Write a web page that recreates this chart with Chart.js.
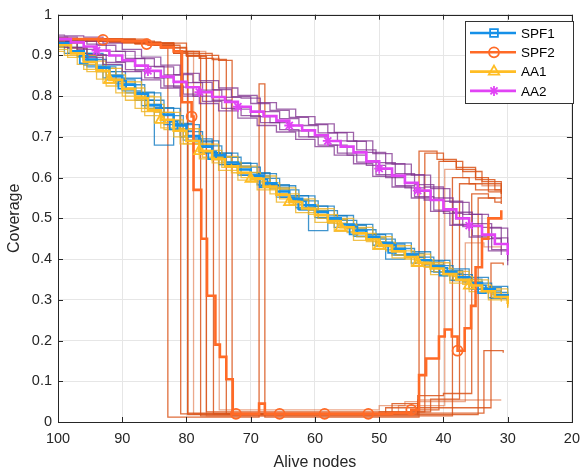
<!DOCTYPE html>
<html lang="en">
<head>
<meta charset="UTF-8">
<title>Coverage vs alive nodes</title>
<style>
    html, body { margin: 0; padding: 0; background: #fff; }
    #wrap { width: 588px; height: 474px; }
</style>
</head>
<body>
<div id="wrap"><canvas id="coverage_canvas" width="588" height="474"></canvas></div>
<script src="https://cdn.jsdelivr.net/npm/chart.js@4.4.1/dist/chart.umd.min.js"></script>
<script>
// alive nodes for the averaged curves
const aliveNodes = [100, 98, 96, 94, 92, 90, 88, 86, 84, 82, 80, 78, 76, 74, 72, 70, 68, 66,
    64, 62, 60, 58, 56, 54, 52, 50, 48, 46, 44, 42, 40, 38, 36, 34, 32, 30];

// averaged coverage
const spf1Mean = [.93, .91, .89, .87, .85, .828, .806, .778, .755, .728, .702, .676, .655, .637, .62, .605, .586, .566,
    .548, .532, .516, .5, .485, .47, .455, .44, .425, .411, .397, .383, .369, .355, .341, .326, .311, .298];
const aa1Mean = [.925, .905, .884, .862, .84, .818, .795, .765, .742, .715, .69, .665, .645, .628, .612, .597, .578, .558,
    .54, .524, .508, .493, .478, .463, .448, .433, .419, .405, .391, .377, .363, .349, .335, .321, .307, .29];
const aa2Mean = [.94, .932, .922, .912, .9, .888, .875, .862, .848, .835, .822, .81, .798, .786, .774, .762, .751, .74,
    .728, .716, .704, .69, .676, .662, .64, .622, .605, .587, .568, .545, .522, .5, .482, .46, .437, .41];
// SPF2 average as [alive nodes, coverage]
const spf2Mean = [[100, .94], [96, .94], [93, .938], [90, .935], [86.2, .928], [84, .92], [82, .91], [80.7, .785],
    [79.2, .75], [78.9, .57], [77.7, .45], [76.8, .31], [75.5, .19], [74.8, .16], [73.8, .105], [72.8, .02],
    [72.3, .02], [69, .02], [68.7, .045], [67.8, .02], [65.5, .02], [58.5, .02], [51.7, .02], [48, .022],
    [45, .03], [43.8, .115], [42.7, .156], [40.7, .21], [39.8, .227], [38.7, .21], [37.8, .175], [36.7, .23],
    [35.7, .285], [35, .38], [34, .45], [33, .5], [31, .52]];

// where the markers sit on each averaged curve
const spf1Marks = [96, 90, 82, 76, 68, 62, 54, 48, 40, 34];
const spf2Marks = [93, 86.2, 79.2, 72.3, 65.5, 58.5, 51.7, 45, 37.8];
const aa1Marks = [92, 84, 78, 70, 64, 56, 50, 44, 36];
const aa2Marks = [94, 86, 78, 72, 64, 58, 50, 44, 36];

// single runs, three node grids
const gridA = [100, 97, 94, 91, 88, 85, 82, 79, 76, 73, 70, 67, 64, 61, 58, 55, 52, 49, 46, 43, 40, 37, 34, 31];
const gridB = [100, 98.5, 95.5, 92.5, 89.5, 86.5, 83.5, 80.5, 77.5, 74.5, 71.5, 68.5, 65.5, 62.5, 59.5, 56.5,
    53.5, 50.5, 47.5, 44.5, 41.5, 38.5, 35.5, 32.5, 30];
const gridC = [100, 99, 96, 93, 90, 87, 84, 81, 78, 75, 72, 69, 66, 63, 60, 57, 54, 51, 48, 45, 42, 39, 36, 33, 30];

const spf1Run1 = [.935, .905, .872, .84, .81, .772, .733, .695, .66, .636, .612, .583, .556, .53, .506, .483, .46, .437, .414, .393, .372, .351, .33, .305];
const spf1Run2 = [.922, .905, .872, .84, .808, .77, .73, .692, .66, .632, .606, .58, .552, .52, .5, .478, .455, .432, .41, .39, .368, .347, .326, .304, .298];
const spf1Run3 = [.93, .898, .86, .83, .79, .68, .715, .688, .652, .628, .604, .575, .545, .47, .498, .476, .452, .4, .405, .386, .365, .344, .322, .3];
const spf1Run4 = [.935, .92, .89, .86, .828, .79, .752, .713, .678, .65, .626, .598, .57, .543, .519, .495, .472, .449, .426, .405, .384, .362, .341, .318, .3];
const spf1Run5 = [.94, .935, .905, .876, .844, .808, .77, .73, .69, .66, .635, .61, .58, .555, .53, .507, .485, .462, .44, .418, .397, .376, .355, .333, .31];
const spf1Run6 = [.92, .905, .876, .845, .813, .777, .74, .7, .662, .632, .606, .582, .552, .526, .502, .478, .456, .434, .41, .39, .369, .348, .327, .305, .29];

const aa1Run1 = [.93, .9, .868, .835, .8, .76, .72, .682, .65, .625, .6, .572, .544, .52, .497, .474, .452, .43, .408, .387, .366, .345, .324, .302];
const aa1Run2 = [.915, .895, .86, .825, .79, .752, .718, .683, .65, .625, .6, .575, .548, .522, .5, .477, .455, .433, .41, .39, .369, .349, .328, .306, .285];
const aa1Run3 = [.92, .878, .842, .808, .77, .735, .7, .665, .636, .612, .59, .56, .534, .51, .488, .465, .443, .42, .4, .38, .359, .338, .317, .295];
const aa1Run4 = [.93, .918, .886, .852, .82, .78, .742, .703, .667, .638, .613, .587, .56, .533, .509, .486, .463, .441, .42, .398, .377, .357, .336, .313, .282];
const aa1Run5 = [.935, .93, .9, .868, .835, .798, .76, .72, .682, .652, .628, .604, .575, .548, .524, .5, .478, .455, .433, .412, .391, .37, .349, .327, .3];
const aa1Run6 = [.91, .9, .866, .832, .8, .762, .722, .683, .646, .618, .594, .57, .54, .514, .49, .468, .446, .424, .403, .382, .362, .341, .32, .3, .28];

const aa2Run1 = [.945, .935, .925, .91, .892, .872, .853, .834, .816, .799, .782, .765, .748, .73, .71, .689, .662, .634, .607, .577, .542, .51, .478, .44];
const aa2Run2 = [.93, .918, .902, .883, .865, .845, .825, .805, .787, .77, .752, .735, .718, .7, .68, .66, .638, .607, .58, .553, .52, .485, .457, .423, .395];
const aa2Run3 = [.935, .915, .9, .885, .862, .845, .822, .8, .79, .768, .75, .735, .715, .7, .68, .655, .63, .6, .575, .545, .512, .48, .45, .41];
const aa2Run4 = [.945, .94, .928, .91, .893, .873, .852, .833, .815, .797, .795, .762, .745, .728, .71, .69, .668, .637, .61, .583, .55, .515, .487, .452, .42];
const aa2Run5 = [.95, .948, .945, .93, .915, .896, .876, .856, .838, .82, .802, .784, .768, .75, .732, .711, .69, .659, .633, .606, .573, .539, .51, .476, .438];
const aa2Run6 = [.93, .92, .895, .878, .86, .84, .82, .8, .782, .764, .746, .728, .712, .694, .676, .655, .634, .603, .577, .55, .517, .483, .454, .42, .385];

// SPF2 single runs as [alive nodes, coverage]
const spf2Runs = [
    [[100, .94], [94, .935], [88, .93], [84, .918], [82.9, .012], [68.7, .83], [67.8, .012], [44, .012], [43.8, .665], [41, .645], [38, .625], [35, .6], [33, .585], [31, .57]],
    [[100, .935], [92, .932], [86, .925], [82, .905], [80.9, .02], [50, .025], [42.9, .66], [40, .64], [37, .615], [34, .59], [31, .565]],
    [[100, .94], [90, .935], [85, .925], [81, .908], [79.8, .018], [48, .045], [44, .03], [40.7, .64], [38, .62], [35, .595], [32, .57], [31, .56]],
    [[100, .938], [92, .935], [86, .93], [82, .91], [78.9, .02], [47, .04], [39.8, .62], [37, .6], [34, .58], [31, .56]],
    [[100, .94], [90, .933], [84, .92], [80, .9], [77.8, .015], [38.6, .6], [36, .585], [33, .565], [31, .55]],
    [[100, .935], [90, .93], [84, .918], [80, .898], [76.9, .025], [42, .056], [37.5, .585], [35, .57], [31, .565]],
    [[100, .94], [88, .93], [82, .91], [78, .893], [75.8, .02], [49, .035], [32.6, .39], [30.7, .385]],
    [[100, .94], [88, .93], [82, .908], [78, .893], [74.9, .03], [50, .04], [46, .05], [36.6, .44], [33.7, .43], [31, .42]],
    [[100, .935], [88, .928], [82, .905], [76, .89], [73.8, .02], [44, .065], [40, .07], [35.6, .56], [33, .55], [31, .54]],
    [[100, .94], [86, .93], [80, .9], [75, .888], [72.9, .018], [34.6, .55], [32, .54], [31, .535]],
    [[100, .938], [88, .93], [82, .91], [80, .9], [79.8, .022], [33.7, .175], [30.7, .17]],
    [[100, .94], [88, .93], [82, .91], [77, .892], [76.9, .015], [44, .054], [31, .054]]
];

const xTicks = [100, 90, 80, 70, 60, 50, 40, 30, 20];
const yTicks = [0, .1, .2, .3, .4, .5, .6, .7, .8, .9, 1];

const blueThin = 'rgba(0,114,189,0.75)', blueMean = '#1590e8';
const orangeThin = 'rgba(217,83,25,0.85)', orangeMean = '#ff6a26';
const yellowThin = 'rgba(237,177,32,0.8)', yellowMean = '#ffbd24';
const purpleThin = 'rgba(126,47,142,0.75)', purpleMean = '#e143f5';

function zip(xs, ys) {
    return xs.map((x, i) => ({x: x, y: ys[i]}));
}

function fromPairs(list) {
    return list.map(p => ({x: p[0], y: p[1]}));
}

function runSet(data, color, order) {
    return {
        data: data,
        borderColor: color,
        borderWidth: 1.3,
        pointRadius: 0,
        pointHoverRadius: 0,
        stepped: true,
        fill: false,
        order: order
    };
}

function meanSet(label, data, color, style, radius, marks, order) {
    return {
        label: label,
        data: data,
        borderColor: color,
        borderWidth: 2.6,
        stepped: true,
        fill: false,
        pointStyle: style,
        pointRadius: ctx => (ctx.raw && marks.indexOf(ctx.raw.x) >= 0) ? radius : 0,
        pointHoverRadius: 0,
        pointBorderColor: color,
        pointBackgroundColor: 'rgba(0,0,0,0)',
        pointBorderWidth: 1.8,
        order: order
    };
}

const datasets = [
    meanSet('AA2', zip(aliveNodes, aa2Mean), purpleMean, 'star', 5, aa2Marks, 0),
    meanSet('AA1', zip(aliveNodes, aa1Mean), yellowMean, 'triangle', 6, aa1Marks, 1),
    meanSet('SPF2', fromPairs(spf2Mean), orangeMean, 'circle', 5, spf2Marks, 2),
    meanSet('SPF1', zip(aliveNodes, spf1Mean), blueMean, 'rect', 5.5, spf1Marks, 3),
    runSet(zip(gridA, aa2Run1), purpleThin, 10),
    runSet(zip(gridB, aa2Run2), purpleThin, 10),
    runSet(zip(gridA, aa2Run3), purpleThin, 10),
    runSet(zip(gridB, aa2Run4), purpleThin, 10),
    runSet(zip(gridC, aa2Run5), purpleThin, 10),
    runSet(zip(gridC, aa2Run6), purpleThin, 10),
    runSet(zip(gridA, aa1Run1), yellowThin, 11),
    runSet(zip(gridB, aa1Run2), yellowThin, 11),
    runSet(zip(gridA, aa1Run3), yellowThin, 11),
    runSet(zip(gridB, aa1Run4), yellowThin, 11),
    runSet(zip(gridC, aa1Run5), yellowThin, 11),
    runSet(zip(gridC, aa1Run6), yellowThin, 11),
    runSet(zip(gridA, spf1Run1), blueThin, 12),
    runSet(zip(gridB, spf1Run2), blueThin, 12),
    runSet(zip(gridA, spf1Run3), blueThin, 12),
    runSet(zip(gridB, spf1Run4), blueThin, 12),
    runSet(zip(gridC, spf1Run5), blueThin, 12),
    runSet(zip(gridC, spf1Run6), blueThin, 12)
];
spf2Runs.forEach((run, i) => {
    datasets.push(runSet(fromPairs(run), i % 4 === 3 ? 'rgba(217,83,25,0.5)' : orangeThin, 13));
});

const legendRows = [
    {label: 'SPF1', color: blueMean, style: 'rect', radius: 5.5},
    {label: 'SPF2', color: orangeMean, style: 'circle', radius: 5},
    {label: 'AA1', color: yellowMean, style: 'triangle', radius: 6},
    {label: 'AA2', color: purpleMean, style: 'star', radius: 5}
];

// box, inward ticks and legend the matlab way
const framePlugin = {
    id: 'frame',
    afterDraw(chart) {
        const ctx = chart.ctx;
        const a = chart.chartArea;
        const xs = chart.scales.x, ys = chart.scales.y;
        ctx.save();
        ctx.strokeStyle = '#262626';
        ctx.lineWidth = 1;
        ctx.beginPath();
        xTicks.forEach(v => {
            const px = Math.round(xs.getPixelForValue(v)) + 0.5;
            ctx.moveTo(px, a.bottom); ctx.lineTo(px, a.bottom - 5);
            ctx.moveTo(px, a.top); ctx.lineTo(px, a.top + 5);
        });
        yTicks.forEach(v => {
            const py = Math.round(ys.getPixelForValue(v)) + 0.5;
            ctx.moveTo(a.left, py); ctx.lineTo(a.left + 5, py);
            ctx.moveTo(a.right, py); ctx.lineTo(a.right - 5, py);
        });
        ctx.stroke();
        ctx.strokeRect(Math.round(a.left) + 0.5, Math.round(a.top) + 0.5,
            Math.round(a.right - a.left), Math.round(a.bottom - a.top));

        // legend
        const lx = 465, ly = 21, lw = 108, lh = 82;
        ctx.fillStyle = '#fff';
        ctx.fillRect(lx, ly, lw, lh);
        ctx.strokeStyle = '#333';
        ctx.strokeRect(lx + 0.5, ly + 0.5, lw, lh);
        ctx.font = '13.5px "Liberation Sans", Arial, sans-serif';
        ctx.textBaseline = 'middle';
        legendRows.forEach((row, i) => {
            const y = ly + 12 + i * 19.3;
            ctx.strokeStyle = row.color;
            ctx.lineWidth = 2.6;
            ctx.beginPath();
            ctx.moveTo(lx + 5, y); ctx.lineTo(lx + 51, y);
            ctx.stroke();
            ctx.lineWidth = 1.8;
            ctx.fillStyle = 'rgba(0,0,0,0)';
            if (Chart.helpers && Chart.helpers.drawPoint) {
                Chart.helpers.drawPoint(ctx, {pointStyle: row.style, radius: row.radius, rotation: 0, borderWidth: 1.8}, lx + 29, y);
            }
            ctx.fillStyle = '#000';
            ctx.fillText(row.label, lx + 56, y + 1);
        });
        ctx.restore();
    }
};

const tickFont = {family: '"Liberation Sans", Arial, sans-serif', size: 14.5};
const titleFont = {family: '"Liberation Sans", Arial, sans-serif', size: 16};

new Chart(document.getElementById('coverage_canvas').getContext('2d'), {
    type: 'line',
    data: {datasets: datasets},
    options: {
        responsive: false,
        animation: false,
        devicePixelRatio: 1,
        layout: {padding: {top: 12, right: 11, left: 0, bottom: 0}},
        plugins: {
            legend: {display: false},
            tooltip: {enabled: false}
        },
        scales: {
            x: {
                type: 'linear',
                reverse: true,
                min: 20,
                max: 100,
                afterFit: s => { s.height = 52; },
                afterBuildTicks: s => { s.ticks = xTicks.map(v => ({value: v})); },
                grid: {color: '#e6e6e6', drawTicks: false},
                border: {display: false},
                ticks: {font: tickFont, color: '#262626', padding: 8, maxRotation: 0, autoSkip: false},
                title: {display: true, text: 'Alive nodes', font: titleFont, color: '#262626', padding: {bottom: 2}}
            },
            y: {
                type: 'linear',
                min: 0,
                max: 1,
                afterFit: s => { s.width = 58; },
                afterBuildTicks: s => { s.ticks = yTicks.map(v => ({value: v})); },
                grid: {color: '#e6e6e6', drawTicks: false},
                border: {display: false},
                ticks: {font: tickFont, color: '#262626', padding: 6, callback: v => String(Math.round(v * 10) / 10)},
                title: {display: true, text: 'Coverage', font: titleFont, color: '#262626', padding: {top: 5}}
            }
        }
    },
    plugins: [framePlugin]
});
</script>
</body>
</html>
